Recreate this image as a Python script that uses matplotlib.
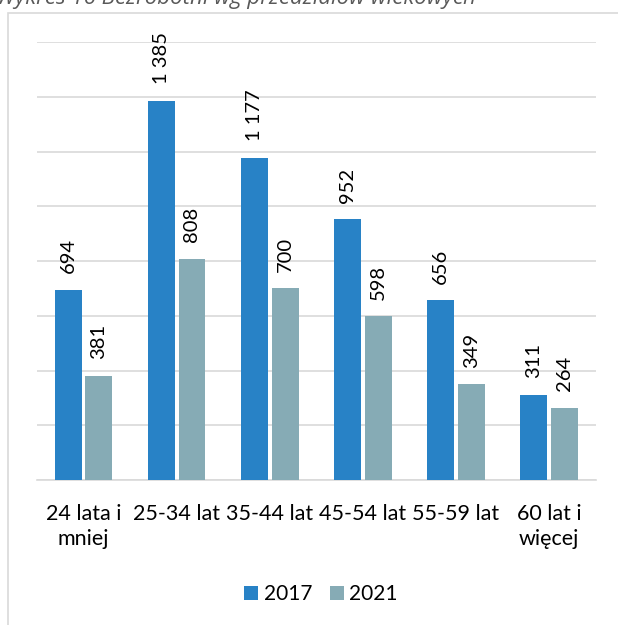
import numpy as np
import matplotlib
matplotlib.use("Agg")
import matplotlib.pyplot as plt
from matplotlib.patches import Rectangle

plt.rcParams['font.family'] = ['Lato', 'DejaVu Sans']

categories = ["24 lata i\nmniej", "25-34 lat", "35-44 lat", "45-54 lat", "55-59 lat", "60 lat i\nwięcej"]
values_2017 = [694, 1385, 1177, 952, 656, 311]
values_2021 = [381, 808, 700, 598, 349, 264]
series_names = ["2017", "2021"]
colors = ["#2882C6", "#86ABB5"]
title = "Wykres 16 Bezrobotni wg przedziałów wiekowych"


def fmt(v):
    return f"{v:,}".replace(",", " ")


fig = plt.figure(figsize=(6.18, 6.25), dpi=100)
ax = fig.add_axes([0.0599, 0.232, 0.9037, 0.7008])

# outer chart frame (partly cut off by the image edge)
fig.patches.append(Rectangle((8 / 618, -0.2), 1.2, 1.2 - 13 / 625,
                             transform=fig.transFigure, fill=False,
                             edgecolor="#d9d9d9", lw=1.2, clip_on=False))
fig.text(-0.006, 1 - 4 / 625, title, fontsize=16, style="italic",
         family=["Open Sans", "DejaVu Sans"],
         color="#595959", va="baseline", ha="left")

x = np.arange(len(categories))
w = 0.29
off = 0.165
for vals, dx, name, c in [(values_2017, -off, series_names[0], colors[0]),
                          (values_2021, off, series_names[1], colors[1])]:
    bars = ax.bar(x + dx, vals, w, color=c, label=name, zorder=3)
    for b, v in zip(bars, vals):
        ax.annotate(fmt(v), (b.get_x() + b.get_width() / 2, b.get_height()),
                    xytext=(0, 12), textcoords="offset points", rotation=90,
                    ha="center", va="bottom", fontsize=14.5, color="#000000")

ax.set_ylim(0, 1600)
ax.set_xlim(-0.5, len(categories) - 0.5)
ax.set_yticks(np.arange(0, 1601, 200))
ax.yaxis.grid(True, color="#d9d9d9", lw=1.2, zorder=0)
ax.tick_params(axis="y", left=False, labelleft=False)
ax.set_xticks(x)
ax.set_xticklabels(categories, fontsize=15.5, linespacing=1.32)
ax.tick_params(axis="x", length=0, pad=17)
for s in ["top", "right", "left"]:
    ax.spines[s].set_visible(False)
ax.spines["bottom"].set_color("#d9d9d9")
ax.spines["bottom"].set_linewidth(1.2)

fig.legend(loc="center", bbox_to_anchor=(321 / 618, 1 - 594 / 625), ncol=2,
           frameon=False, fontsize=15, handlelength=0.67, handleheight=0.67,
           handletextpad=0.25, columnspacing=0.85, borderpad=0)

fig.savefig("out.png", dpi=100)
